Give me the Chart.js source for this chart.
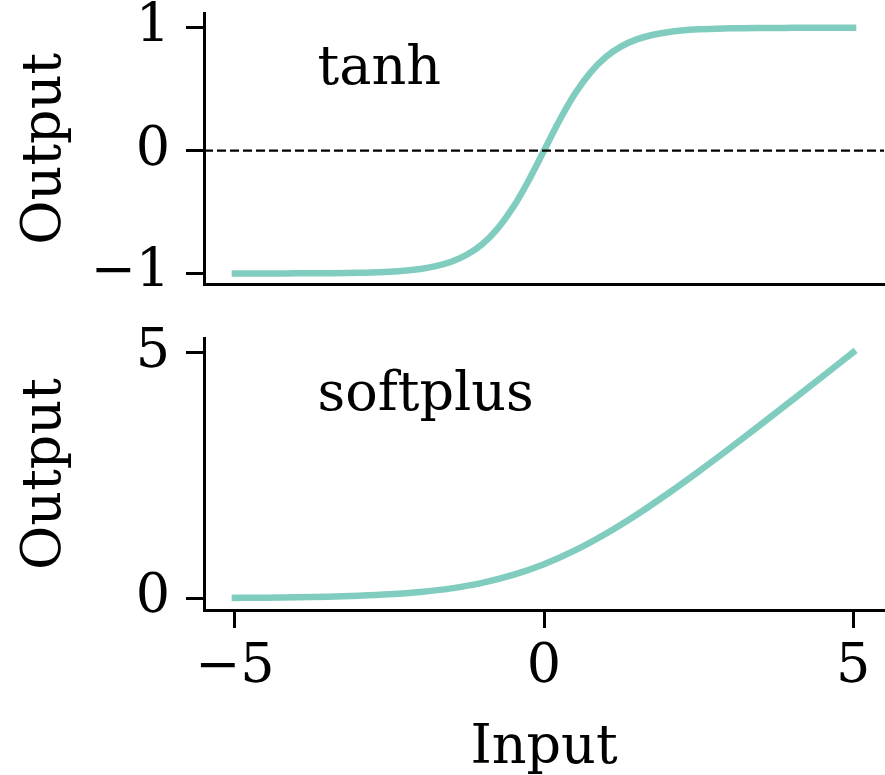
<!DOCTYPE html>
<html>
<head>
<meta charset="utf-8">
<script src="https://cdn.jsdelivr.net/npm/chart.js@4.4.1/dist/chart.umd.min.js"></script>
<style>
  html, body { margin: 0; padding: 0; background: #ffffff; }
  #wrap { position: relative; width: 885px; height: 775px; background: #ffffff; }
  canvas { position: absolute; left: 0; }
</style>
</head>
<body>
<div id="wrap">
  <canvas id="tanhChart" width="885" height="310" style="top:0px"></canvas>
  <canvas id="softplusChart" width="885" height="465" style="top:310px"></canvas>
</div>
<script>
// Activation curves, sampled along the input axis
const tanhX = [-5, -4.5, -4, -3.5, -3, -2.5, -2, -1.75, -1.5, -1.25, -1, -0.75, -0.5, -0.25,
               0, 0.25, 0.5, 0.75, 1, 1.25, 1.5, 1.75, 2, 2.5, 3, 3.5, 4, 4.5, 5];
const tanhY = [-1.00, -1.00, -0.999, -0.998, -0.995, -0.987, -0.964, -0.941, -0.905, -0.848, -0.762, -0.635, -0.462, -0.245,
               0, 0.245, 0.462, 0.635, 0.762, 0.848, 0.905, 0.941, 0.964, 0.987, 0.995, 0.998, 0.999, 1.00, 1.00];

const softplusX = [-5, -4.5, -4, -3.5, -3, -2.5, -2, -1.5, -1, -0.5, 0, 0.5, 1, 1.5, 2, 2.5, 3, 3.5, 4, 4.5, 5];
const softplusY = [0.007, 0.011, 0.018, 0.030, 0.049, 0.079, 0.127, 0.201, 0.313, 0.474, 0.693,
                   0.974, 1.313, 1.701, 2.127, 2.579, 3.049, 3.530, 4.018, 4.511, 5.007];

// Dashed reference line at zero output (spans the whole input range)
const zeroLineX = [-5.5, 5.5];
const zeroLineY = [0, 0];

// Axis ticks and their labels
const xTicks = [-5, 0, 5];
const xTickLabels = ['\u22125', '0', '5'];
const tanhTicks = [-1, 0, 1];
const tanhTickLabels = ['\u22121', '0', '1'];
const softplusTicks = [0, 5];
const softplusTickLabels = ['0', '5'];

const panelNames = ['tanh', 'softplus'];
const xTitle = 'Input';
const yTitle = 'Output';

// ---- styling ----
const FONT_FAMILY = '"DejaVu Serif", serif';
const FONT_SIZE = 54;
const CURVE_COLOR = 'rgb(128, 205, 192)';
const AXIS_W = 3;

function pts(xs, ys) { return xs.map((x, i) => ({ x: x, y: ys[i] })); }

const panelLabel = {
  id: 'panelLabel',
  afterDatasetsDraw(chart, args, opts) {
    const a = chart.chartArea;
    const ctx = chart.ctx;
    ctx.save();
    ctx.font = FONT_SIZE + 'px ' + FONT_FAMILY;
    ctx.fillStyle = '#000';
    ctx.textAlign = 'left';
    ctx.textBaseline = 'alphabetic';
    ctx.fillText(opts.text, a.left + opts.fx * (a.right - a.left), a.top + opts.fy * (a.bottom - a.top));
    ctx.restore();
  }
};

function makeChart(canvasId, cfg) {
  const datasets = [{
    data: pts(cfg.xs, cfg.ys),
    borderColor: CURVE_COLOR,
    borderWidth: 6.5,
    borderCapStyle: 'square',
    pointRadius: 0,
    cubicInterpolationMode: 'monotone',
    fill: false,
    order: 2
  }];
  if (cfg.zeroLine) {
    datasets.push({
      data: pts(zeroLineX, zeroLineY),
      borderColor: '#000',
      borderWidth: 2.2,
      borderDash: [9, 4],
      pointRadius: 0,
      fill: false,
      order: 1
    });
  }
  const font = { family: FONT_FAMILY, size: FONT_SIZE };
  return new Chart(document.getElementById(canvasId), {
    type: 'line',
    data: { datasets: datasets },
    plugins: [panelLabel],
    options: {
      responsive: false,
      animation: false,
      devicePixelRatio: 1,
      layout: { padding: { top: cfg.padTop, right: 1, left: 0, bottom: 0 } },
      plugins: {
        legend: { display: false },
        tooltip: { enabled: false },
        panelLabel: { text: cfg.name, fx: 0.167, fy: 0.263 }
      },
      scales: {
        x: {
          type: 'linear',
          min: -5.5,
          max: 5.5,
          afterBuildTicks: s => { s.ticks = xTicks.map(v => ({ value: v })); },
          afterFit: s => {
            s.height = cfg.xHeight;
            s.paddingLeft = 0; s.paddingRight = 0;
          },
          ticks: {
            display: cfg.showX,
            font: font,
            color: '#000',
            padding: 8,
            maxRotation: 0,
            callback: v => xTickLabels[xTicks.indexOf(v)]
          },
          grid: {
            display: true,
            drawOnChartArea: false,
            drawTicks: cfg.showX,
            tickLength: 18,
            tickWidth: AXIS_W,
            tickColor: '#000'
          },
          border: { display: true, color: '#000', width: AXIS_W },
          title: {
            display: cfg.showX,
            text: xTitle,
            font: font,
            color: '#000',
            padding: { top: 0, bottom: -6 }
          }
        },
        y: {
          type: 'linear',
          min: cfg.ymin,
          max: cfg.ymax,
          afterBuildTicks: s => { s.ticks = cfg.yTicks.map(v => ({ value: v })); },
          afterFit: s => {
            s.width = 204;
            s.paddingTop = 0; s.paddingBottom = 0;
          },
          ticks: {
            font: font,
            color: '#000',
            padding: 16,
            callback: v => cfg.yLabels[cfg.yTicks.indexOf(v)]
          },
          grid: {
            display: true,
            drawOnChartArea: false,
            drawTicks: true,
            tickLength: 18,
            tickWidth: AXIS_W,
            tickColor: '#000'
          },
          border: { display: true, color: '#000', width: AXIS_W },
          title: {
            display: true,
            text: yTitle,
            font: font,
            color: '#000',
            padding: { top: 14, bottom: 0 }
          }
        }
      }
    }
  });
}

makeChart('tanhChart', {
  xs: tanhX, ys: tanhY, name: panelNames[0], zeroLine: true,
  ymin: -1.09, ymax: 1.12, yTicks: tanhTicks, yLabels: tanhTickLabels,
  padTop: 13, xHeight: 25.5, showX: false
});

makeChart('softplusChart', {
  xs: softplusX, ys: softplusY, name: panelNames[1], zeroLine: false,
  ymin: -0.24, ymax: 5.3, yTicks: softplusTicks, yLabels: softplusTickLabels,
  padTop: 28, xHeight: 165, showX: true
});
</script>
</body>
</html>
